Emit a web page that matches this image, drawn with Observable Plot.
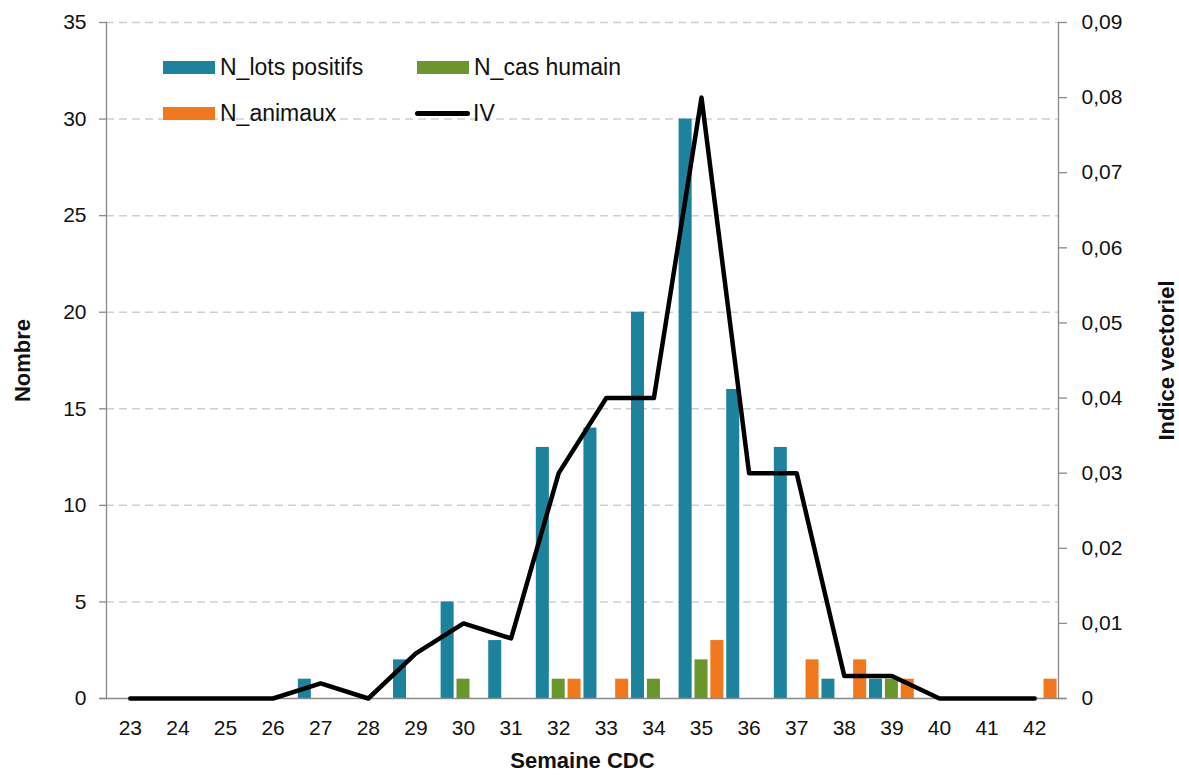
<!DOCTYPE html>
<html>
<head>
<meta charset="utf-8">
<script src="https://cdn.jsdelivr.net/npm/d3@7"></script>
<script src="https://cdn.jsdelivr.net/npm/@observablehq/plot@0.6"></script>
<style>
  html, body { margin: 0; padding: 0; background: #fff; }
  #wrap { position: relative; width: 1179px; height: 775px; font-family: "Liberation Sans", Arial, sans-serif; }
  .leg { position: absolute; display: flex; align-items: center; font-size: 23px; color: #111; }
  .sw { width: 52px; height: 13px; margin-right: 5px; }
  .ln { width: 55px; height: 5px; border-radius: 3px; background: #000; margin-right: 3px; }
</style>
</head>
<body>
<div id="wrap"></div>
<script>
const weeks = [23,24,25,26,27,28,29,30,31,32,33,34,35,36,37,38,39,40,41,42];
const seriesNames = ["N_lots positifs", "N_cas humain", "N_animaux"];
const seriesColors = ["#1d839c", "#6a962b", "#f1781c"];
const nLotsPositifs = [0,0,0,0,1,0,2,5,3,13,14,20,30,16,13,1,1,0,0,0];
const nCasHumain    = [0,0,0,0,0,0,0,1,0,1,0,1,2,0,0,0,1,0,0,0];
const nAnimaux      = [0,0,0,0,0,0,0,0,0,1,1,0,3,0,2,2,1,0,0,1];
const iv = [0,0,0,0,0.002,0,0.006,0.01,0.008,0.03,0.04,0.04,0.08,0.03,0.03,0.003,0.003,0,0,0];
const leftTicks = [0,5,10,15,20,25,30,35];
const rightTicks = [0,0.01,0.02,0.03,0.04,0.05,0.06,0.07,0.08,0.09];
const leftMax = 35, rightMax = 0.09;

const seriesValues = [nLotsPositifs, nCasHumain, nAnimaux];
const key = (w, s) => w + "|" + s;
const xDomain = weeks.flatMap(w => seriesNames.map(s => key(w, s)));
const bars = weeks.flatMap((w, i) => seriesNames.map((s, j) => ({week: w, series: s, value: seriesValues[j][i]})));
const ivData = weeks.map((w, i) => ({week: w, iv: iv[i], yv: iv[i] * leftMax / rightMax}));

const font = "\"Liberation Sans\", Arial, sans-serif";
const chart = Plot.plot({
  width: 1179,
  height: 775,
  marginLeft: 106,
  marginRight: 121,
  marginTop: 22,
  marginBottom: 77,
  style: {fontFamily: font, fontSize: "21px", color: "#111", background: "#fff"},
  x: {type: "band", domain: xDomain, paddingInner: 0.18, paddingOuter: 0.09, axis: null},
  y: {domain: [0, leftMax], axis: null},
  color: {domain: seriesNames, range: seriesColors},
  marks: [
    Plot.gridY(leftTicks.filter(d => d > 0), {stroke: "#cfcfcf", strokeOpacity: 1, strokeWidth: 1.5, strokeDasharray: "8,5"}),
    Plot.barY(bars, {x: d => key(d.week, d.series), y: "value", fill: "series"}),
    Plot.axisY(leftTicks, {anchor: "left", tickSize: 7, tickPadding: 13, stroke: "#8a8a8a", strokeWidth: 1.3, label: null, fontSize: 21}),
    Plot.axisY(rightTicks.map(v => v * leftMax / rightMax), {
      anchor: "right", tickSize: 8, tickPadding: 15, stroke: "#8a8a8a", strokeWidth: 1.3, label: null, fontSize: 21,
      tickFormat: (d, i) => rightTicks[i] === 0 ? "0" : rightTicks[i].toFixed(2).replace(".", ",")
    }),
    Plot.axisX(weeks.map(w => key(w, seriesNames[1])), {
      anchor: "bottom", tickSize: 0, tickPadding: 22, label: null, fontSize: 21,
      tickFormat: d => d.split("|")[0]
    }),
    Plot.frame({anchor: "left", stroke: "#8a8a8a", strokeWidth: 1.3}),
    Plot.frame({anchor: "right", stroke: "#8a8a8a", strokeWidth: 1.3}),
    Plot.ruleY([0], {stroke: "#8a8a8a", strokeWidth: 1.3, insetLeft: -7, insetRight: -8}),
    Plot.line(ivData, {x: d => key(d.week, seriesNames[1]), y: "yv", stroke: "#000", strokeWidth: 4.5, strokeLinecap: "round", strokeLinejoin: "round"}),
    Plot.text(["Nombre"], {frameAnchor: "left", textAnchor: "middle", dx: -84, rotate: -90, fontWeight: "bold", fontSize: 22, fill: "#111"}),
    Plot.text(["Indice vectoriel"], {frameAnchor: "right", textAnchor: "middle", dx: 108, rotate: -90, fontWeight: "bold", fontSize: 22, fill: "#111"}),
    Plot.text(["Semaine CDC"], {frameAnchor: "bottom", textAnchor: "middle", dy: 69, fontWeight: "bold", fontSize: 22, fill: "#111"})
  ]
});
const wrap = document.getElementById("wrap");
wrap.appendChild(chart);

const legendItems = [
  {label: seriesNames[0], color: seriesColors[0], left: 163, top: 67, type: "bar"},
  {label: seriesNames[1], color: seriesColors[1], left: 417, top: 67, type: "bar"},
  {label: seriesNames[2], color: seriesColors[2], left: 163, top: 113, type: "bar"},
  {label: "IV", color: "#000", left: 415, top: 113, type: "line"}
];
for (const it of legendItems) {
  const d = document.createElement("div");
  d.className = "leg";
  d.style.left = it.left + "px";
  d.style.top = (it.top - 13) + "px";
  d.style.height = "26px";
  const s = document.createElement("span");
  s.className = it.type === "bar" ? "sw" : "ln";
  s.style.background = it.color;
  d.appendChild(s);
  d.appendChild(document.createTextNode(it.label));
  wrap.appendChild(d);
}
</script>
</body>
</html>
